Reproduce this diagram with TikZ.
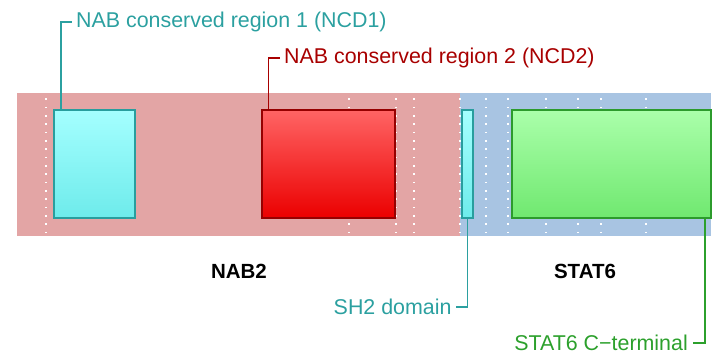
\documentclass[tikz,border=0pt]{standalone}
\usepackage{fontspec}
\setmainfont{Liberation Sans}
\definecolor{bgpink}{RGB}{227,165,165}
\definecolor{bgblue}{RGB}{168,196,226}
\definecolor{tealtxt}{RGB}{43,160,160}
\definecolor{redtxt}{RGB}{168,0,0}
\definecolor{greentxt}{RGB}{44,160,44}
\definecolor{cyantop}{RGB}{164,255,255}
\definecolor{cyanbot}{RGB}{110,235,235}
\definecolor{cyanline}{RGB}{40,158,158}
\definecolor{redtop}{RGB}{255,100,100}
\definecolor{redbot}{RGB}{235,0,0}
\definecolor{redline}{RGB}{150,0,0}
\definecolor{greentop}{RGB}{170,255,170}
\definecolor{greenbot}{RGB}{112,232,112}
\definecolor{greenline}{RGB}{44,155,44}
\tikzset{
  dom/.style={rectangle, inner sep=0pt, line width=1.8pt},
  cyandom/.style={dom, draw=cyanline, top color=cyantop, bottom color=cyanbot},
  reddom/.style={dom, draw=redline, top color=redtop, bottom color=redbot},
  greendom/.style={dom, draw=greenline, top color=greentop, bottom color=greenbot},
  lbl/.style={inner sep=0pt, font=\fontsize{21.4}{24}\selectfont},
  bigname/.style={inner sep=0pt, font=\fontsize{20.5}{24}\selectfont\bfseries},
  conn/.style={line width=1.8pt},
  grid/.style={white, line width=1.4pt, dash pattern=on 1.4pt off 6.93pt}
}
\begin{document}
\begin{tikzpicture}[x=1pt,y=-1pt]
\useasboundingbox (0,0) rectangle (719,358);
% background bands
\fill[bgpink] (17,93) rectangle (460,236);
\fill[bgblue] (460,93) rectangle (711,236);
% dotted grid lines
\foreach \gx in {46,349,396,414,460,486,508,546,578,601,646}
  \draw[grid] (\gx,98.5) -- (\gx,236);
% domains
\node[cyandom, minimum width=80.7pt, minimum height=107.4pt] (ncd1) at (94.65,164) {};
\node[reddom, minimum width=132.7pt, minimum height=107.4pt] (ncd2) at (328.65,164) {};
\node[cyandom, minimum width=11.6pt, minimum height=107.4pt] (sh2) at (467.5,164) {};
\node[greendom, minimum width=199.3pt, minimum height=107.4pt] (cterm) at (611.35,164) {};
% labels
\node[lbl, text=tealtxt, anchor=west] (l1) at (76,22) {NAB conserved region 1 (NCD1)};
\node[lbl, text=redtxt, anchor=west] (l2) at (284,57.7) {NAB conserved region 2 (NCD2)};
\node[lbl, text=tealtxt, anchor=east] (l3) at (451.7,307) {SH2 domain};
\node[lbl, text=greentxt, anchor=east] (l4) at (688,342.7) {STAT6 C−terminal};
\node[bigname] (nab2) at (239,271.7) {NAB2};
\node[bigname] (stat6) at (585,271.7) {STAT6};
% connectors
\draw[conn, tealtxt] ([xshift=7.3pt]ncd1.north west) |- ([xshift=-4pt]l1.west);
\draw[conn, redtxt] ([xshift=7pt]ncd2.north west) |- ([xshift=-4pt]l2.west);
\draw[conn, tealtxt] (sh2.south) |- ([xshift=4pt]l3.east);
\draw[conn, greentxt] ([xshift=-7pt]cterm.south east) |- ([xshift=5pt]l4.east);
\end{tikzpicture}
\end{document}
